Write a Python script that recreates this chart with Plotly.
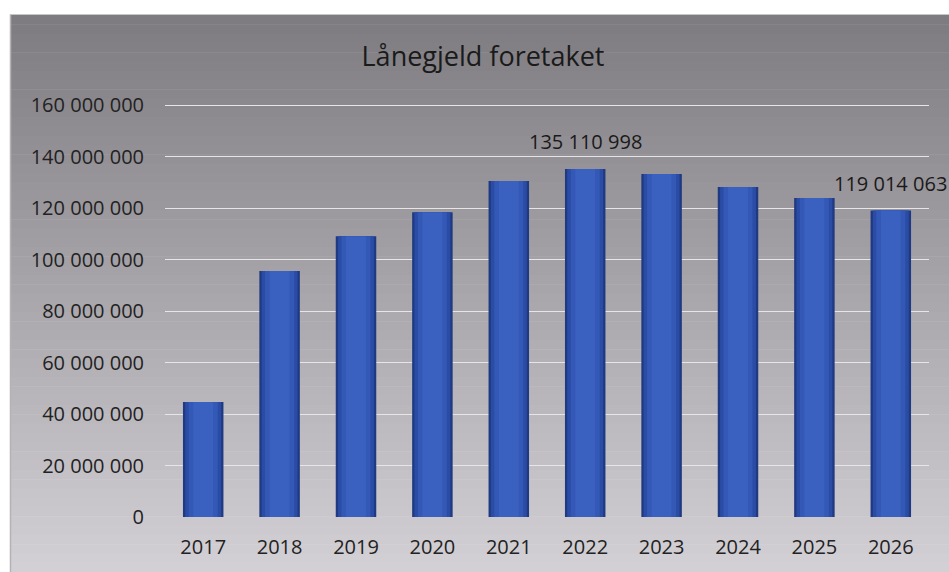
import plotly.graph_objects as go

years = ["2017", "2018", "2019", "2020", "2021", "2022", "2023", "2024", "2025", "2026"]
loan_debt = [44700000, 95500000, 109000000, 118400000, 130500000, 135110998,
             133200000, 128200000, 123900000, 119014063]
labelled_years = ["2022", "2026"]
y_ticks = [0, 20000000, 40000000, 60000000, 80000000, 100000000, 120000000, 140000000, 160000000]
title_text = "Lånegjeld foretaket"

W, H = 949, 572
L, R, T, B = 165, 20, 104, 55
pw = W - L - R
ph = H - T - B

def px_x(p):
    return (p - L) / pw

def px_y(p):
    return (H - B - p) / ph

fig = go.Figure()

# bevel-like bars: layered bars of decreasing width and lighter colour
layers = [
    (0.53, "#1f3a82"),
    (0.47, "#2a4ca5"),
    (0.38, "#3358b6"),
    (0.26, "#3a61c0"),
]
for w, c in layers:
    fig.add_trace(go.Bar(x=years, y=loan_debt, width=w, marker=dict(color=c, line=dict(width=0)),
                         hoverinfo="skip", showlegend=False))

# background gradient bands (chart area frame)
top_c = (0x7e, 0x7c, 0x80)
bot_c = (0xd3, 0xd0, 0xd5)
y_top_px, y_bot_px = 15, H
n = 60
for i in range(n):
    a = y_top_px + (y_bot_px - y_top_px) * i / n
    b = y_top_px + (y_bot_px - y_top_px) * (i + 1) / n + 0.5
    t = i / (n - 1)
    col = tuple(int(round(top_c[k] + (bot_c[k] - top_c[k]) * t)) for k in range(3))
    fig.add_shape(type="rect", xref="paper", yref="paper",
                  x0=px_x(11), x1=px_x(W + 2), y0=px_y(b), y1=px_y(a),
                  fillcolor="rgb(%d,%d,%d)" % col, line=dict(width=0), layer="below")
# frame lines
fig.add_shape(type="line", xref="paper", yref="paper", x0=px_x(10.5), x1=px_x(10.5),
              y0=px_y(H), y1=px_y(14), line=dict(color="#b4b2b6", width=1.5), layer="below")
fig.add_shape(type="line", xref="paper", yref="paper", x0=px_x(10), x1=px_x(W),
              y0=px_y(14.5), y1=px_y(14.5), line=dict(color="#c8c6ca", width=1), layer="below")

for i, (yr, v) in enumerate(zip(years, loan_debt)):
    if yr in labelled_years:
        fig.add_annotation(x=i, y=v, text=format(v, ",").replace(",", " "), showarrow=False,
                           yanchor="bottom", yshift=12, font=dict(size=20, color="#1a1a1a"))

fig.update_layout(
    width=W, height=H,
    margin=dict(l=L, r=R, t=T, b=B),
    paper_bgcolor="white",
    plot_bgcolor="rgba(0,0,0,0)",
    barmode="overlay",
    separators=", ",
    font=dict(family="Open Sans, Lato, sans-serif", size=20, color="#222222"),
    title=dict(text=title_text, x=483 / W, xanchor="center", y=1 - 57 / H, yanchor="middle",
               font=dict(size=27, color="#1a1a1a")),
    showlegend=False,
)
fig.update_xaxes(type="category", range=[-0.5, len(years) - 0.5], showgrid=False, showline=False,
                 zeroline=False, ticks="", tickfont=dict(size=20, color="#222222"), ticklabelstandoff=16)
fig.update_yaxes(range=[0, 160400000], tickvals=y_ticks, tickformat=",d",
                 gridcolor="#e6e6e6", gridwidth=1.2, zeroline=False, showline=False,
                 tickfont=dict(size=20, color="#222222"), ticklabelstandoff=20)

fig.write_html("out.html", config={"displayModeBar": False},
               post_script="document.body.style.margin='0';")
